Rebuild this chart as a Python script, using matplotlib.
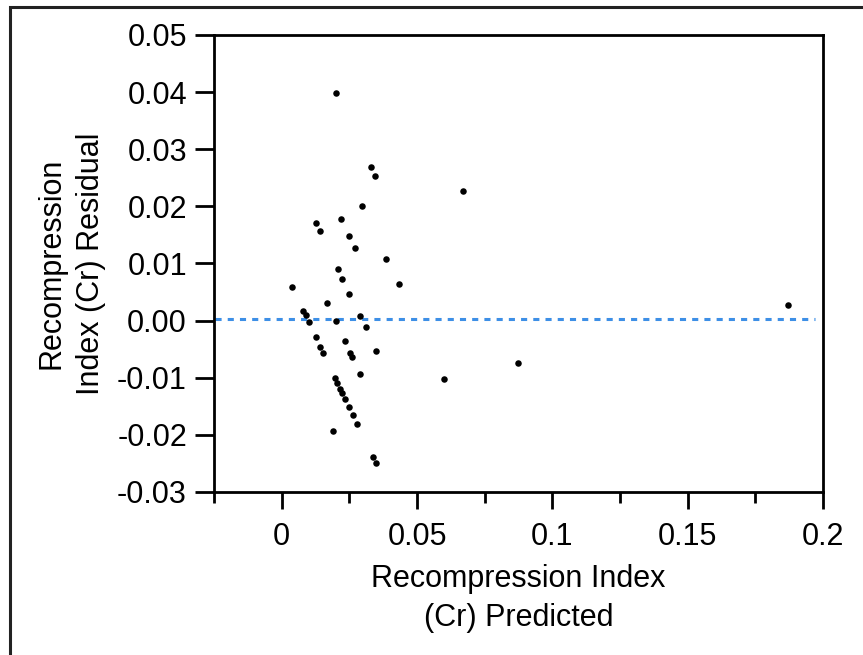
import numpy as np
import matplotlib
matplotlib.use('Agg')
import matplotlib.pyplot as plt
from matplotlib.patches import Rectangle
from matplotlib.ticker import FuncFormatter, MultipleLocator

plt.rcParams['font.family'] = ['Liberation Sans', 'DejaVu Sans']
plt.rcParams['axes.unicode_minus'] = False

# predicted Cr vs residual
cr_predicted = [0.0200, 0.0329, 0.0345, 0.0297, 0.0126, 0.0141, 0.0219, 0.0249,
                0.0270, 0.0387, 0.0207, 0.0224, 0.0038, 0.0434, 0.0249, 0.0168,
                0.0079, 0.0088, 0.0100, 0.0200, 0.0288, 0.0311, 0.0127, 0.0143,
                0.0153, 0.0233, 0.0251, 0.0260, 0.0350, 0.0290, 0.0600, 0.0198,
                0.0206, 0.0214, 0.0223, 0.0234, 0.0249, 0.0263, 0.0280, 0.0191,
                0.0338, 0.0348, 0.0671, 0.1870, 0.0872]
cr_residual = [0.0398, 0.0268, 0.0253, 0.0201, 0.0171, 0.0156, 0.0177, 0.0148,
               0.0127, 0.0108, 0.0090, 0.0073, 0.0058, 0.0064, 0.0047, 0.0030,
               0.0016, 0.0010, -0.0003, -0.0001, 0.0008, -0.0012, -0.0029, -0.0047,
               -0.0057, -0.0035, -0.0056, -0.0063, -0.0053, -0.0093, -0.0103, -0.0101,
               -0.0110, -0.0119, -0.0127, -0.0137, -0.0152, -0.0166, -0.0182, -0.0193,
               -0.0239, -0.0249, 0.0227, 0.0028, -0.0075]
mean_residual = 0.0002

fig = plt.figure(figsize=(8.63, 6.55), dpi=100)
ax = fig.add_axes([0.248, 0.249, 0.7057, 0.6977])

ax.scatter(cr_predicted, cr_residual, s=22, color='black', zorder=3, linewidths=0)
ax.hlines(mean_residual, -0.0245, 0.197, colors='#3d8fe6', linestyles=(0, (2, 2)), lw=2.2)

ax.set_xlim(-0.025, 0.2)
ax.set_ylim(-0.03, 0.05)
ax.xaxis.set_major_locator(MultipleLocator(0.05))
ax.xaxis.set_minor_locator(MultipleLocator(0.025))
ax.yaxis.set_major_locator(MultipleLocator(0.01))
ax.xaxis.set_major_formatter(FuncFormatter(lambda v, p: '%g' % round(v, 3)))
ax.yaxis.set_major_formatter(FuncFormatter(lambda v, p: '%.2f' % (0 if abs(v) < 1e-9 else v)))

for s in ax.spines.values():
    s.set_linewidth(2)
ax.tick_params(axis='x', which='major', length=12, width=2, labelsize=22, pad=10)
ax.tick_params(axis='x', which='minor', length=8, width=2)
ax.tick_params(axis='y', which='major', length=13.5, width=2, labelsize=22, pad=6)

ax.set_xlabel('Recompression Index\n(Cr) Predicted', fontsize=22, labelpad=8, linespacing=1.4)
ax.set_ylabel('Recompression\nIndex (Cr) Residual', fontsize=22, labelpad=8, linespacing=1.4)

# outer frame of the original figure
fig.patches.append(Rectangle((10 / 863, -0.2), 1.2, 1.2 - 7 / 655,
                             transform=fig.transFigure, fill=False,
                             edgecolor='#222222', lw=2.2))

fig.savefig('out.png', dpi=100)
